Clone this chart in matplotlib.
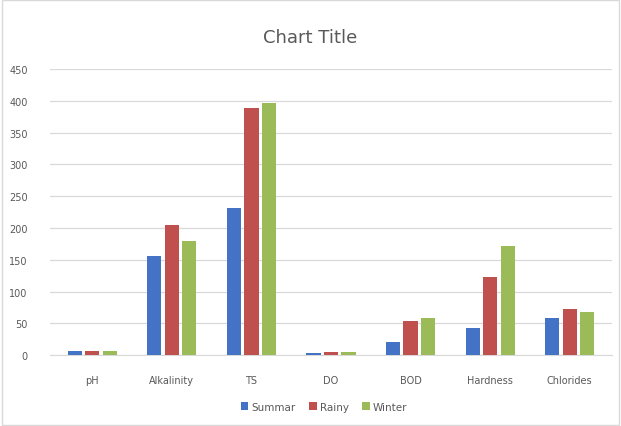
import numpy as np
import matplotlib.pyplot as plt

# Water quality parameters by season
categories = ['pH', 'Alkalinity', 'TS', 'DO', 'BOD', 'Hardness', 'Chlorides']
summer = [7, 156, 231, 3, 21, 42, 59]
rainy = [7, 204, 388, 5, 54, 123, 72]
winter = [7, 180, 396, 5, 59, 172, 68]

colors = ['#4472C4', '#C0504D', '#9BBB59']
text_col = '#595959'

fig = plt.figure(figsize=(6.21, 4.27), dpi=100)
ax = fig.add_axes([0.0805, 0.166, 0.905, 0.67])

x = np.arange(len(categories))
w = 0.18
step = 0.22
for i, (vals, lab) in enumerate(zip([summer, rainy, winter], ['Summar', 'Rainy', 'Winter'])):
    ax.bar(x + (i - 1) * step, vals, width=w, color=colors[i], label=lab, zorder=3)

ax.set_xlim(-0.53, len(categories) - 0.47)
ax.set_ylim(0, 450)
ax.set_yticks(range(0, 451, 50))
ax.set_xticks(x)
ax.set_xticklabels(categories)
ax.tick_params(axis='both', length=0, labelsize=7, colors=text_col)
ax.tick_params(axis='y', pad=16)
ax.tick_params(axis='x', pad=14)
ax.grid(axis='y', color='#D9D9D9', linewidth=0.9, zorder=0)
for s in ['top', 'right', 'left']:
    ax.spines[s].set_visible(False)
ax.spines['bottom'].set_color('#D9D9D9')

fig.text(0.5, 0.912, 'Chart Title', ha='center', va='center', fontsize=13, color=text_col)
fig.legend(loc='center', bbox_to_anchor=(0.522, 0.045), ncol=3, frameon=False,
           fontsize=7.5, labelcolor=text_col, handlelength=0.7, handleheight=0.7,
           handletextpad=0.3, columnspacing=1.3)

# light border around the chart
fig.patches.append(plt.Rectangle((0.003, 0.003), 0.994, 0.994, transform=fig.transFigure,
                                 fill=False, edgecolor='#D9D9D9', linewidth=1))

plt.savefig('out.png', dpi=100)
